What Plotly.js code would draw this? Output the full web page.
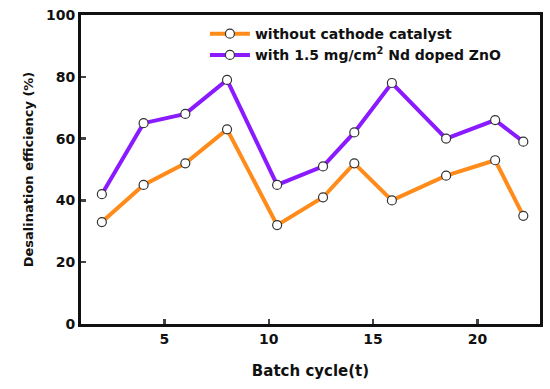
<!DOCTYPE html>
<html><head><meta charset="utf-8">
<script src="https://cdn.plot.ly/plotly-3.0.1.min.js"></script>
<style>body{margin:0;background:#fff}#c{width:550px;height:389px}</style>
</head><body><div id="c"></div>
<script>
const cycles = [2, 4, 6, 8, 10.4, 12.6, 14.1, 15.9, 18.5, 20.85, 22.2];
const withoutCatalyst = [33, 45, 52, 63, 32, 41, 52, 40, 48, 53, 35];
const withNdZnO = [42, 65, 68, 79, 45, 51, 62, 78, 60, 66, 59];
const seriesNames = ["without cathode catalyst", "with 1.5 mg/cm<sup>2</sup> Nd doped ZnO"];
const xTicks = [5, 10, 15, 20];
const yTicks = [0, 20, 40, 60, 80, 100];

const marker = {symbol: 'circle', size: 9, color: '#ffffff', line: {color: '#333333', width: 1.2}};
const traces = [
  {x: cycles, y: withoutCatalyst, name: seriesNames[0], mode: 'lines+markers',
   line: {color: '#ff8c1a', width: 4}, marker: marker},
  {x: cycles, y: withNdZnO, name: seriesNames[1], mode: 'lines+markers',
   line: {color: '#8a1aff', width: 4}, marker: marker}
];
const fam = 'DejaVu Sans, Verdana, sans-serif';
const layout = {
  width: 550, height: 389,
  margin: {l: 81, r: 10, t: 15, b: 65},
  paper_bgcolor: '#fff', plot_bgcolor: '#fff',
  font: {family: fam, color: '#111', size: 13},
  showlegend: true,
  legend: {x: 0.27, y: 0.99, xanchor: 'left', yanchor: 'top', bgcolor: 'rgba(0,0,0,0)',
           itemwidth: 40,
           font: {family: fam, size: 14, color: '#111', weight: 'bold'}, tracegroupgap: 0},
  xaxis: {range: [1, 23], tickvals: xTicks, ticks: 'inside', ticklen: 5, tickwidth: 2.5,
          showline: true, linecolor: '#111', linewidth: 3, mirror: true, showgrid: false, zeroline: false,
          tickfont: {family: fam, size: 14, weight: 'bold'},
          title: {text: '<b>Batch cycle(t)</b>', font: {family: fam, size: 15}, standoff: 20}},
  yaxis: {range: [0, 100], tickvals: yTicks, ticks: 'inside', ticklen: 5, tickwidth: 2.5,
          showline: true, linecolor: '#111', linewidth: 3, mirror: true, showgrid: false, zeroline: false,
          tickfont: {family: fam, size: 14, weight: 'bold'},
          title: {text: '<b>Desalination efficiency (%)</b>', font: {family: fam, size: 13}, standoff: 10}}
};
Plotly.newPlot('c', traces, layout, {displayModeBar: false, staticPlot: true});
</script></body></html>
